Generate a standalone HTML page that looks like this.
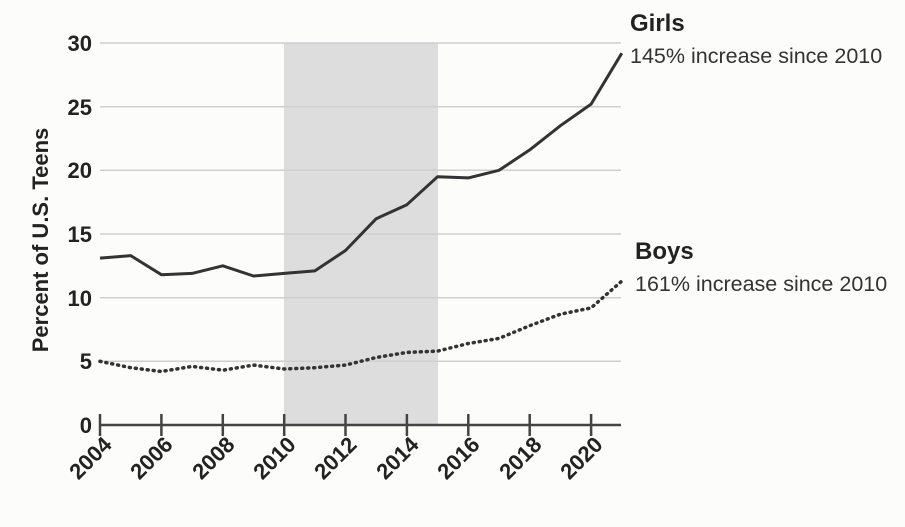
<!DOCTYPE html>
<html><head><style>
body{margin:0;background:#fcfcfa;}
svg{display:block;font-family:"Liberation Sans",sans-serif;}
</style></head><body>
<svg width="905" height="527" viewBox="0 0 905 527">
<rect width="905" height="527" fill="#fcfcfa"/>
<rect x="284" y="43" width="154" height="382" fill="#dddddd"/>
<g stroke="#cfcfcf" stroke-width="1.5">
<line x1="100" x2="621" y1="43" y2="43"/>
<line x1="100" x2="621" y1="106.7" y2="106.7"/>
<line x1="100" x2="621" y1="170.3" y2="170.3"/>
<line x1="100" x2="621" y1="234" y2="234"/>
<line x1="100" x2="621" y1="297.7" y2="297.7"/>
<line x1="100" x2="621" y1="361.3" y2="361.3"/>
</g>
<g stroke="#444" stroke-width="2.5">
<line x1="100" x2="621" y1="425" y2="425"/>
<line x1="100" x2="100" y1="414" y2="436"/>
<line x1="161.4" x2="161.4" y1="414" y2="436"/>
<line x1="222.8" x2="222.8" y1="414" y2="436"/>
<line x1="284.2" x2="284.2" y1="414" y2="436"/>
<line x1="345.5" x2="345.5" y1="414" y2="436"/>
<line x1="406.9" x2="406.9" y1="414" y2="436"/>
<line x1="468.3" x2="468.3" y1="414" y2="436"/>
<line x1="529.7" x2="529.7" y1="414" y2="436"/>
<line x1="591.1" x2="591.1" y1="414" y2="436"/>
</g>
<g font-size="22" font-weight="bold" fill="#222" text-anchor="end">
<text x="92" y="51">30</text><text x="92" y="115">25</text><text x="92" y="178">20</text>
<text x="92" y="242">15</text><text x="92" y="306">10</text><text x="92" y="369">5</text><text x="92" y="433">0</text>
</g>
<g font-size="22" font-weight="bold" fill="#222" text-anchor="end">
<text transform="translate(113,446) rotate(-45)">2004</text>
<text transform="translate(174,446) rotate(-45)">2006</text>
<text transform="translate(236,446) rotate(-45)">2008</text>
<text transform="translate(297,446) rotate(-45)">2010</text>
<text transform="translate(358,446) rotate(-45)">2012</text>
<text transform="translate(420,446) rotate(-45)">2014</text>
<text transform="translate(481,446) rotate(-45)">2016</text>
<text transform="translate(543,446) rotate(-45)">2018</text>
<text transform="translate(604,446) rotate(-45)">2020</text>
</g>
<text transform="translate(48,240) rotate(-90)" font-size="22" font-weight="bold" fill="#222" text-anchor="middle">Percent of U.S. Teens</text>
<polyline fill="none" stroke="#333" stroke-width="3" stroke-linejoin="round"
points="100,258.1 130.7,255.6 161.4,274.7 192.1,273.4 222.8,265.8 253.5,276 284.2,273.4 314.8,270.9 345.5,250.5 376.2,218.7 406.9,204.7 437.6,176.7 468.3,177.9 499,170.3 529.7,149.9 560.4,125.7 591.1,104.1 621.8,53.2"/>
<polyline fill="none" stroke="#333" stroke-width="3.5" stroke-dasharray="1 5" stroke-linecap="round"
points="100,361.3 130.7,367.7 161.4,371.5 192.1,366.4 222.8,370.2 253.5,365.1 284.2,369 314.8,367.7 345.5,365.1 376.2,357.5 406.9,352.4 437.6,351.1 468.3,343.5 499,338.4 529.7,325.7 560.4,314.2 591.1,307.9 621.8,281.1"/>
<text x="630" y="31" font-size="24" font-weight="bold" fill="#222">Girls</text>
<text x="630" y="63" font-size="21.5" fill="#333">145% increase since 2010</text>
<text x="635" y="259" font-size="24" font-weight="bold" fill="#222">Boys</text>
<text x="635" y="291" font-size="21.5" fill="#333">161% increase since 2010</text>
</svg>
</body></html>
